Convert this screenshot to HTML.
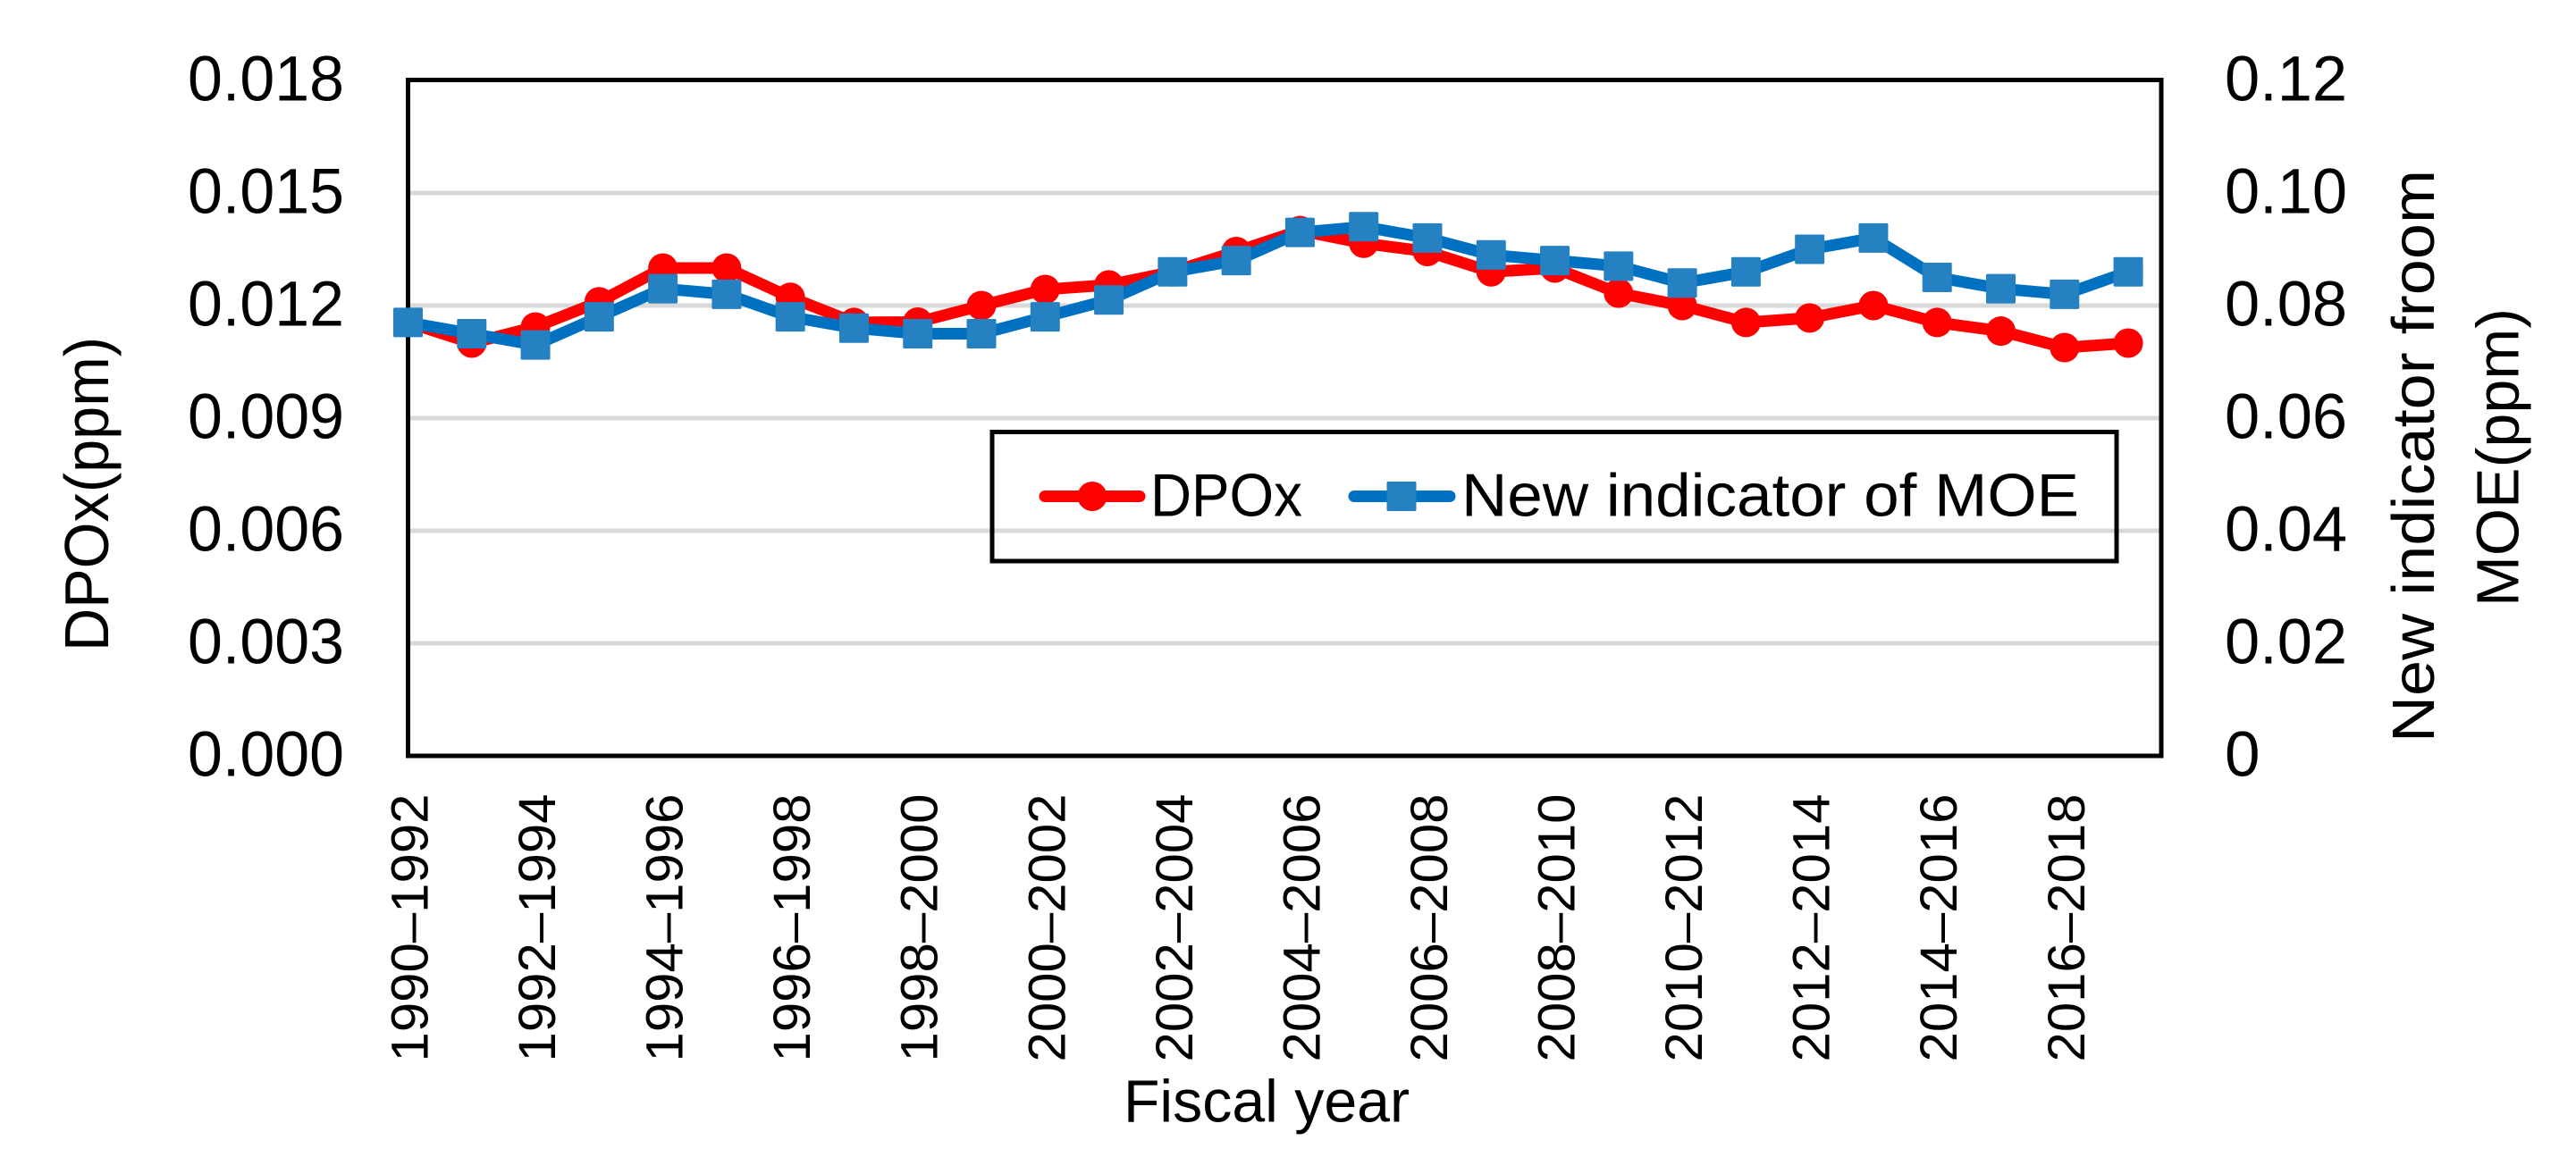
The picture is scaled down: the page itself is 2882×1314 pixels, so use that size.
<!DOCTYPE html>
<html lang="en">
<head>
<meta charset="utf-8">
<title>DPOx and new indicator of MOE</title>
<style>
html,body{margin:0;padding:0;background:#fff;}
svg{display:block;}
text{font-family:"Liberation Sans",sans-serif;fill:#000;}
</style>
</head>
<body>
<svg id="chart" xmlns="http://www.w3.org/2000/svg" width="2882" height="1314" viewBox="0 0 2882 1314">
  <rect x="0" y="0" width="2882" height="1314" fill="#ffffff"/>
  <g id="grid"></g>
  <rect x="456.5" y="89.5" width="1961.5" height="756.5" fill="none" stroke="#000" stroke-width="5"/>
  <g id="left-ticks"></g>
  <g id="right-ticks"></g>
  <g id="x-ticks"></g>
  <text transform="translate(121,729) rotate(-90)" font-size="70" textLength="352" lengthAdjust="spacingAndGlyphs">DPOx(ppm)</text>
  <text transform="translate(2723,831) rotate(-90)" font-size="67" textLength="641" lengthAdjust="spacingAndGlyphs">New indicator froom</text>
  <text transform="translate(2817.5,679) rotate(-90)" font-size="67" textLength="334" lengthAdjust="spacingAndGlyphs">MOE(ppm)</text>
  <text x="1257" y="1255.5" font-size="67" textLength="320" lengthAdjust="spacingAndGlyphs">Fiscal year</text>
  <g id="series"></g>
  <g>
    <rect x="1110" y="483.5" width="1258" height="144.5" fill="none" stroke="#000" stroke-width="5"/>
    <line x1="1169" y1="555.5" x2="1275" y2="555.5" stroke="#ff0000" stroke-width="13" stroke-linecap="round"/>
    <circle cx="1222" cy="555.5" r="16.5" fill="#ff0000"/>
    <text x="1287" y="577.5" font-size="68" textLength="170" lengthAdjust="spacingAndGlyphs">DPOx</text>
    <line x1="1515" y1="555.5" x2="1622" y2="555.5" stroke="#0070c0" stroke-width="13" stroke-linecap="round"/>
    <rect x="1551.5" y="539" width="33" height="33" rx="1.5" fill="#2681c3"/>
    <text x="1635" y="577.5" font-size="68" textLength="691" lengthAdjust="spacingAndGlyphs">New indicator of MOE</text>
  </g>
</svg>
<script>
const categories = ["1990–1992","1991–1993","1992–1994","1993–1995","1994–1996","1995–1997","1996–1998","1997–1999","1998–2000","1999–2001","2000–2002","2001–2003","2002–2004","2003–2005","2004–2006","2005–2007","2006–2008","2007–2009","2008–2010","2009–2011","2010–2012","2011–2013","2012–2014","2013–2015","2014–2016","2015–2017","2016–2018","2017–2019"];
const dpoxValues = [0.01155,0.0110,0.01143,0.0121,0.0130,0.0130,0.01222,0.01155,0.01156,0.0120,0.01243,0.01255,0.0129,0.01344,0.0140,0.01366,0.01344,0.0129,0.0130,0.01233,0.0120,0.01155,0.01167,0.0120,0.01155,0.01132,0.01088,0.0110];
const moeValues = [0.077,0.075,0.073,0.078,0.083,0.082,0.078,0.076,0.075,0.075,0.078,0.081,0.086,0.088,0.093,0.094,0.092,0.089,0.088,0.087,0.084,0.086,0.090,0.092,0.085,0.083,0.082,0.086];
const leftTickValues = [0,0.003,0.006,0.009,0.012,0.015,0.018];
const leftTickLabels = ["0.000","0.003","0.006","0.009","0.012","0.015","0.018"];
const rightTickValues = [0,0.02,0.04,0.06,0.08,0.10,0.12];
const rightTickLabels = ["0","0.02","0.04","0.06","0.08","0.10","0.12"];
const leftMax = 0.018;
const rightMax = 0.12;

const NS = "http://www.w3.org/2000/svg";
const plotLeft = 456.5, plotBottom = 846, plotTop = 90, stepX = 71.28;
function xAt(i){ return plotLeft + i * stepX; }
function yLeft(v){ return plotBottom - (v / leftMax) * (plotBottom - plotTop); }
function yRight(v){ return plotBottom - (v / rightMax) * (plotBottom - plotTop); }
function make(tag, attrs, parent){
  const el = document.createElementNS(NS, tag);
  for (const k in attrs) el.setAttribute(k, attrs[k]);
  parent.appendChild(el);
  return el;
}

const gridG = document.getElementById("grid");
leftTickValues.forEach(function(v){
  if (v === 0 || v === leftMax) return;
  const y = yLeft(v);
  const g = make("line", {x1: 459, x2: 2416, y1: y, y2: y, stroke: "#d9d9d9", "stroke-width": 5}, gridG);
  
  
});

const leftG = document.getElementById("left-ticks");
leftTickValues.forEach(function(v, i){
  const t = make("text", {x: 210, y: yLeft(v) + 22.5, "font-size": 71, textLength: 175, lengthAdjust: "spacingAndGlyphs"}, leftG);
  t.textContent = leftTickLabels[i];
  
  
});

const rightG = document.getElementById("right-ticks");
rightTickValues.forEach(function(v, i){
  const t = make("text", {x: 2489, y: yRight(v) + 22.5, "font-size": 71}, rightG);
  if (rightTickLabels[i].length > 1) {
    t.setAttribute("textLength", 137);
    t.setAttribute("lengthAdjust", "spacingAndGlyphs");
  }
  t.textContent = rightTickLabels[i];
  
  
});

const xG = document.getElementById("x-ticks");
categories.forEach(function(c, i){
  if (i % 2 !== 0 || i > 26) return;
  const t = make("text", {transform: "translate(" + (xAt(i) + 22) + ",888.5) rotate(-90)", "text-anchor": "end", "font-size": 58, textLength: 300, lengthAdjust: "spacingAndGlyphs"}, xG);
  t.textContent = c;
  
  
});

const seriesG = document.getElementById("series");
function polyPoints(vals, yFn){
  return vals.map(function(v, i){ return xAt(i) + "," + yFn(v); }).join(" ");
}
const redLine = make("polyline", {points: polyPoints(dpoxValues, yLeft), fill: "none", stroke: "#ff0000", "stroke-width": 13, "stroke-linejoin": "round"}, seriesG);


dpoxValues.forEach(function(v, i){
  const c = make("circle", {cx: xAt(i), cy: yLeft(v), r: 16.5, fill: "#ff0000"}, seriesG);
  
  
});
const blueLine = make("polyline", {points: polyPoints(moeValues, yRight), fill: "none", stroke: "#0070c0", "stroke-width": 13, "stroke-linejoin": "round"}, seriesG);


moeValues.forEach(function(v, i){
  const r = make("rect", {x: xAt(i) - 16.5, y: yRight(v) - 16.5, width: 33, height: 33, rx: 1.5, fill: "#2681c3"}, seriesG);
  
  
});
</script>
</body>
</html>
